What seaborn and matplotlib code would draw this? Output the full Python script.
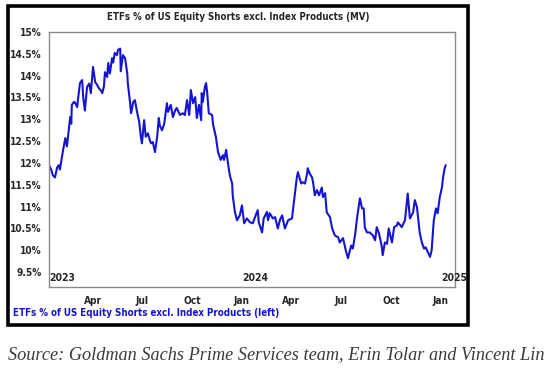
import pandas as pd
import matplotlib.pyplot as plt
import matplotlib.transforms as mtransforms
from matplotlib.patches import Rectangle
import seaborn as sns


# dates / values
dates = [
    "2023-01-11", "2023-01-15", "2023-01-18", "2023-01-22", "2023-01-26", "2023-01-29", "2023-01-31",
    "2023-02-04", "2023-02-06", "2023-02-10", "2023-02-13", "2023-02-15", "2023-02-19", "2023-02-21",
    "2023-02-22", "2023-02-26", "2023-02-28", "2023-03-04", "2023-03-05", "2023-03-09", "2023-03-13",
    "2023-03-15", "2023-03-18", "2023-03-22", "2023-03-26", "2023-03-29", "2023-04-02", "2023-04-06",
    "2023-04-09", "2023-04-13", "2023-04-17", "2023-04-19", "2023-04-22", "2023-04-24", "2023-04-28",
    "2023-04-30", "2023-05-03", "2023-05-07", "2023-05-09", "2023-05-12", "2023-05-16", "2023-05-18",
    "2023-05-22", "2023-05-23", "2023-05-27", "2023-05-31", "2023-06-04", "2023-06-05", "2023-06-09",
    "2023-06-11", "2023-06-15", "2023-06-18", "2023-06-22", "2023-06-26", "2023-06-29", "2023-07-01",
    "2023-07-05", "2023-07-08", "2023-07-12", "2023-07-16", "2023-07-18", "2023-07-21", "2023-07-25",
    "2023-07-29", "2023-08-01", "2023-08-03", "2023-08-07", "2023-08-11", "2023-08-16", "2023-08-18",
    "2023-08-22", "2023-08-23", "2023-08-27", "2023-08-31", "2023-09-03", "2023-09-09", "2023-09-14",
    "2023-09-18", "2023-09-22", "2023-09-26", "2023-09-29", "2023-10-03", "2023-10-07", "2023-10-10",
    "2023-10-14", "2023-10-18", "2023-10-19", "2023-10-21", "2023-10-25", "2023-10-27", "2023-10-29",
    "2023-11-01", "2023-11-07", "2023-11-09", "2023-11-14", "2023-11-18", "2023-11-23", "2023-11-27",
    "2023-11-29", "2023-12-03", "2023-12-04", "2023-12-08", "2023-12-10", "2023-12-14", "2023-12-15",
    "2023-12-19", "2023-12-23", "2023-12-28", "2024-01-01", "2024-01-05", "2024-01-10", "2024-01-16",
    "2024-01-21", "2024-01-25", "2024-01-30", "2024-02-01", "2024-02-07", "2024-02-10", "2024-02-16",
    "2024-02-18", "2024-02-21", "2024-02-27", "2024-03-02", "2024-03-07", "2024-03-11", "2024-03-15",
    "2024-03-20", "2024-03-26", "2024-04-02", "2024-04-06", "2024-04-11", "2024-04-13", "2024-04-19",
    "2024-04-22", "2024-04-26", "2024-04-30", "2024-05-01", "2024-05-05", "2024-05-09", "2024-05-11",
    "2024-05-14", "2024-05-18", "2024-05-22", "2024-05-27", "2024-05-29", "2024-06-02", "2024-06-05",
    "2024-06-11", "2024-06-15", "2024-06-20", "2024-06-26", "2024-06-29", "2024-07-05", "2024-07-10",
    "2024-07-14", "2024-07-20", "2024-07-23", "2024-07-27", "2024-07-31", "2024-08-05", "2024-08-09",
    "2024-08-12", "2024-08-14", "2024-08-18", "2024-08-23", "2024-08-29", "2024-09-02", "2024-09-05",
    "2024-09-09", "2024-09-14", "2024-09-16", "2024-09-20", "2024-09-24", "2024-09-27", "2024-10-03",
    "2024-10-07", "2024-10-12", "2024-10-14", "2024-10-21", "2024-10-27", "2024-10-30", "2024-11-01",
    "2024-11-05", "2024-11-11", "2024-11-14", "2024-11-18", "2024-11-20", "2024-11-23", "2024-11-27",
    "2024-12-01", "2024-12-04", "2024-12-08", "2024-12-12", "2024-12-15", "2024-12-19", "2024-12-23",
    "2024-12-26", "2024-12-30", "2025-01-03", "2025-01-05", "2025-01-08", "2025-01-10",
]

etf_share = [
    11.95, 11.85, 11.72, 11.67, 11.90, 11.95, 11.85,
    12.15, 12.30, 12.57, 12.38, 12.60, 13.05, 12.90,
    13.33, 13.40, 13.38, 13.28, 13.42, 13.83, 13.90,
    13.50, 13.20, 13.74, 13.82, 13.60, 14.20, 13.85,
    13.80, 13.71, 13.65, 13.60, 13.75, 14.08, 13.97,
    14.29, 14.05, 14.40, 14.30, 14.52, 14.47, 14.59,
    14.62, 14.10, 14.47, 14.40, 14.05, 13.83, 13.40,
    13.14, 13.40, 13.44, 13.17, 12.94, 12.60, 12.45,
    12.98, 12.60, 12.68, 12.50, 12.45, 12.48, 12.25,
    12.60, 13.03, 12.85, 12.75, 12.90, 13.37, 13.17,
    13.30, 13.33, 13.05, 13.20, 13.26, 13.10, 13.14,
    13.10, 13.44, 13.10, 13.67, 13.37, 13.51, 13.03,
    13.33, 12.98, 13.60, 13.40, 13.75, 13.83, 13.62,
    13.14, 13.10, 12.87, 12.60, 12.25, 12.07, 12.18,
    12.07, 12.30, 12.20, 11.85, 11.70, 11.53, 11.26,
    10.88, 10.69, 10.80, 11.03, 10.62, 10.73, 10.64,
    10.62, 10.76, 10.92, 10.64, 10.41, 10.73, 10.88,
    10.69, 10.85, 10.73, 10.76, 10.50, 10.70, 10.80,
    10.50, 10.69, 10.73, 11.15, 11.67, 11.79, 11.53,
    11.56, 11.53, 11.76, 11.88, 11.75, 11.67, 11.55,
    11.26, 11.38, 11.26, 11.44, 11.22, 11.31, 10.87,
    10.76, 10.50, 10.34, 10.30, 10.18, 10.28, 10.00,
    9.82, 10.11, 10.04, 10.34, 10.76, 11.19, 10.96,
    10.96, 10.53, 10.41, 10.41, 10.34, 10.23, 10.53,
    10.39, 10.11, 9.89, 10.18, 10.15, 10.50, 10.18,
    10.53, 10.57, 10.64, 10.53, 10.69, 11.07, 11.30,
    10.73, 10.87, 11.15, 10.99, 10.76, 10.41, 10.18,
    10.04, 10.07, 9.96, 9.85, 10.00, 10.69, 10.96,
    10.85, 11.22, 11.44, 11.67, 11.88, 11.95,
]

y_ticks = [9.5, 10, 10.5, 11, 11.5, 12, 12.5, 13, 13.5, 14, 14.5, 15]
x_ticks = ["2023-04-01", "2023-07-01", "2023-10-01", "2024-01-01",
           "2024-04-01", "2024-07-01", "2024-10-01", "2025-01-01"]
x_tick_labels = ["Apr", "Jul", "Oct", "Jan", "Apr", "Jul", "Oct", "Jan"]
years = ["2023", "2024", "2025"]
year_pos = ["2023-01-12", "2024-01-01", "2025-01-01"]

title = "ETFs % of US Equity Shorts excl. Index Products (MV)"
legend_label = "ETFs % of US Equity Shorts excl. Index Products (left)"
source = "Source: Goldman Sachs Prime Services team, Erin Tolar and Vincent Lin"

line_color = "#1414d2"

df = pd.DataFrame({"date": pd.to_datetime(dates), "value": etf_share})

sns.set_style("white")
plt.rcParams["font.family"] = ["DejaVu Sans"]
plt.rcParams["font.stretch"] = "condensed"

fig = plt.figure(figsize=(5.47, 3.68), dpi=100)
ax = fig.add_axes([49 / 547, 1 - 287 / 368, (455 - 49) / 547, (287 - 32) / 368])

sns.lineplot(data=df, x="date", y="value", ax=ax, color=line_color, linewidth=1.5)

ax.set_xlim(pd.Timestamp("2023-01-11"), pd.Timestamp("2025-01-27"))
ax.set_ylim(9.16, 15)
ax.set_xlabel("")
ax.set_ylabel("")

ax.set_yticks(y_ticks)
ax.set_yticklabels([f"{v:g}%" for v in y_ticks], fontweight="bold", fontsize=7.3)
ax.set_xticks(pd.to_datetime(x_ticks))
ax.set_xticklabels(x_tick_labels, fontweight="bold", fontsize=7.3)
ax.tick_params(axis="both", direction="out", length=4, width=0.8, color="#808080", pad=2.5)
ax.tick_params(axis="y", length=5, pad=0.5)

for spine in ax.spines.values():
    spine.set_visible(True)
    spine.set_color("#8a8a8a")
    spine.set_linewidth(1.0)

trans = mtransforms.blended_transform_factory(ax.transData, ax.transAxes)
for yr, pos in zip(years, year_pos):
    ax.text(pd.Timestamp(pos), 0.015, yr, transform=trans, ha="left", va="bottom",
            fontsize=7.5, fontweight="bold", clip_on=False)

fig.text(238 / 547, 1 - 17 / 368, title, ha="center", va="center",
         fontsize=6.9, fontweight="heavy")
fig.text(13 / 547, 1 - 313 / 368, legend_label, ha="left", va="center",
         fontsize=7.0, fontweight="bold", color=line_color)

fig.patches.append(Rectangle((8 / 547, 1 - 325 / 368), (468 - 8) / 547, (325 - 6) / 368,
                             transform=fig.transFigure, fill=False, edgecolor="black",
                             linewidth=2.6))

fig.text(8 / 547, 1 - 355 / 368, source, ha="left", va="center",
         fontsize=13.15, fontstyle="italic", color="#3a3a3a",
         family=["Liberation Serif", "DejaVu Serif"], stretch="normal")

plt.savefig("out.png", dpi=100)
